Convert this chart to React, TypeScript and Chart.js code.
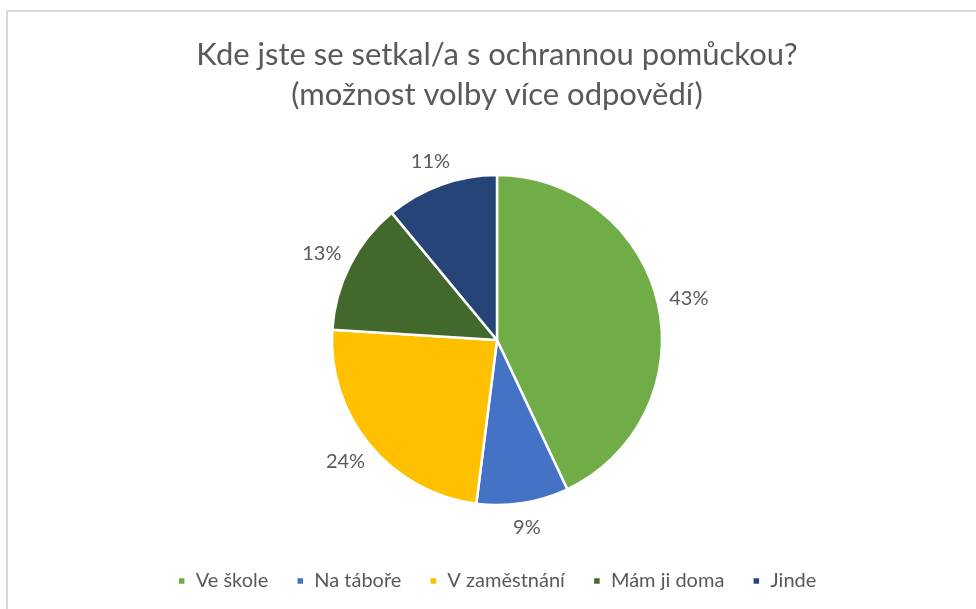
import React, { useEffect, useRef } from "react";
import { Chart, registerables } from "chart.js";

Chart.register(...registerables);

const titleLines = ["Kde jste se setkal/a s ochrannou pomůckou?", "(možnost volby více odpovědí)"];
const categories = ["Ve škole", "Na táboře", "V zaměstnání", "Mám ji doma", "Jinde"];
const values = [43, 9, 24, 13, 11];
const colors = ["#70AD47", "#4472C4", "#FFC000", "#43682B", "#264478"];

const FONT = "Lato, 'Open Sans', sans-serif";
const TEXT = "#595959";

const borderPlugin = {
  id: "frameBorder",
  beforeDraw(chart: any) {
    const ctx = chart.ctx;
    ctx.save();
    ctx.strokeStyle = "#d9d9d9";
    ctx.lineWidth = 2;
    ctx.strokeRect(7, 11, 2000, 2000);
    ctx.restore();
  },
};

const labelPlugin = {
  id: "outsideLabels",
  afterDatasetsDraw(chart: any) {
    const ctx = chart.ctx;
    const meta = chart.getDatasetMeta(0);
    ctx.save();
    ctx.font = `20px ${FONT}`;
    ctx.fillStyle = TEXT;
    ctx.textAlign = "center";
    ctx.textBaseline = "middle";
    meta.data.forEach((arc: any, i: number) => {
      const p = arc.getProps(["x", "y", "startAngle", "endAngle", "outerRadius"], true);
      const mid = (p.startAngle + p.endAngle) / 2;
      const c = Math.cos(mid);
      const s = Math.sin(mid);
      const text = `${values[i]}%`;
      const w = ctx.measureText(text).width;
      const h = 26;
      const off = p.outerRadius + 12;
      const x = p.x + off * c + (w / 2) * c;
      const y = p.y + off * s + (h / 2) * s;
      ctx.fillText(text, x, y);
    });
    ctx.restore();
  },
};

export default function App() {
  const ref = useRef<HTMLCanvasElement>(null);
  useEffect(() => {
    if (!ref.current) return;
    const chart = new Chart(ref.current, {
      type: "pie",
      data: {
        labels: categories,
        datasets: [
          {
            data: values,
            backgroundColor: colors,
            borderColor: "#ffffff",
            borderWidth: 2.5,
          },
        ],
      },
      options: {
        responsive: false,
        animation: false,
        radius: 165,
        layout: { padding: { left: 18, right: 0, top: 0, bottom: 8 } },
        plugins: {
          title: {
            display: true,
            text: titleLines,
            color: TEXT,
            font: { family: FONT, size: 31, weight: "normal", lineHeight: 1.29 },
            padding: { top: 35, bottom: 22 },
          },
          legend: {
            display: true,
            position: "bottom",
            labels: {
              color: TEXT,
              font: { family: FONT, size: 20 },
              boxWidth: 8,
              boxHeight: 8,
              padding: 28,
            },
          },
          tooltip: { enabled: false },
        },
      } as any,
      plugins: [borderPlugin, labelPlugin],
    });
    return () => chart.destroy();
  }, []);
  return (
    <div style={{ position: "absolute", left: 0, top: 0, width: 976, height: 609, overflow: "hidden", background: "#fff" }}>
      <canvas ref={ref} width={976} height={609} style={{ width: 976, height: 609, display: "block" }} />
    </div>
  );
}
